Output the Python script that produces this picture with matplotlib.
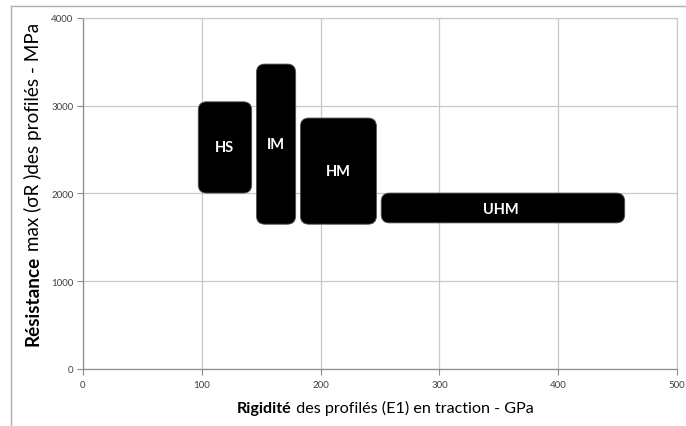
import matplotlib
matplotlib.use("Agg")
import matplotlib.pyplot as plt
from matplotlib.patches import FancyBboxPatch
from matplotlib.lines import Line2D

# fibre grades: stiffness range (GPa) and strength range (MPa)
grades = ["HS", "IM", "HM", "UHM"]
e_min = [97, 146, 183, 251]
e_max = [142, 179, 247, 456]
r_min = [2005, 1650, 1650, 1665]
r_max = [3045, 3475, 2860, 2005]
# label anchor points (data coords)
lab_x = [119, 162, 215, 352]
lab_y = [2530, 2565, 2255, 1825]

xticks = [0, 100, 200, 300, 400, 500]
yticks = [0, 1000, 2000, 3000, 4000]

plt.rcParams['font.family'] = ['Lato', 'DejaVu Sans']

fig = plt.figure(figsize=(6.86, 4.27), dpi=100)
ax = fig.add_axes([83/686, 1 - 370/427, 594/686, 351/427])

# outer frame (left + top only visible)
fig.add_artist(Line2D([11/686, 11/686], [0, 1 - 7/427], transform=fig.transFigure,
                      color='#b0b0b0', lw=1))
fig.add_artist(Line2D([11/686, 1], [1 - 7/427, 1 - 7/427], transform=fig.transFigure,
                      color='#b0b0b0', lw=1))

ax.set_xlim(0, 500)
ax.set_ylim(0, 4000)
ax.set_xticks(xticks)
ax.set_yticks(yticks)
ax.grid(True, color='#c8c8c8', lw=0.9)
ax.set_axisbelow(True)
for s in ax.spines.values():
    s.set_color('#c8c8c8')
    s.set_linewidth(0.9)
ax.spines['left'].set_color('#8c8c8c')
ax.spines['bottom'].set_color('#8c8c8c')
ax.tick_params(axis='both', labelsize=7, colors='#8c8c8c', labelcolor='#404040', length=4, width=0.8)
ax.tick_params(axis='x', direction='out', pad=4)
ax.tick_params(axis='y', direction='out', pad=3)

# x/y ratio in data units per pixel, so corners come out round
aspect = (4000 / 351) / (500 / 594)
for i in range(len(grades)):
    box = FancyBboxPatch((e_min[i], r_min[i]), e_max[i] - e_min[i], r_max[i] - r_min[i],
                         boxstyle="round,pad=0,rounding_size=7", mutation_aspect=aspect,
                         facecolor='black', edgecolor='#555555', lw=0.6, zorder=3)
    ax.add_patch(box)
    ax.text(lab_x[i], lab_y[i], grades[i], color='white', fontsize=10.5, fontweight='bold',
            ha='center', va='center', zorder=4)

# x label: bold word + normal rest
t1 = fig.text(237/686, 1 - 413/427, "Rigidité", fontsize=11.6, fontweight='bold',
              ha='left', va='baseline')
ax.annotate(" des profilés (E1) en traction - GPa", xy=(1, 0), xycoords=t1,
            fontsize=11.6, ha='left', va='bottom', annotation_clip=False)

# y label: bold word + normal rest (rotated)
t2 = fig.text(24/686, 1 - 346/427, "Résistance", fontsize=13.6, fontweight='bold',
              rotation=90, ha='left', va='bottom')
ax.annotate(" max (σR )des profilés - MPa", xy=(0, 1), xycoords=t2,
            fontsize=13.6, rotation=90, ha='left', va='bottom', annotation_clip=False)

fig.savefig("out.png", dpi=100)
